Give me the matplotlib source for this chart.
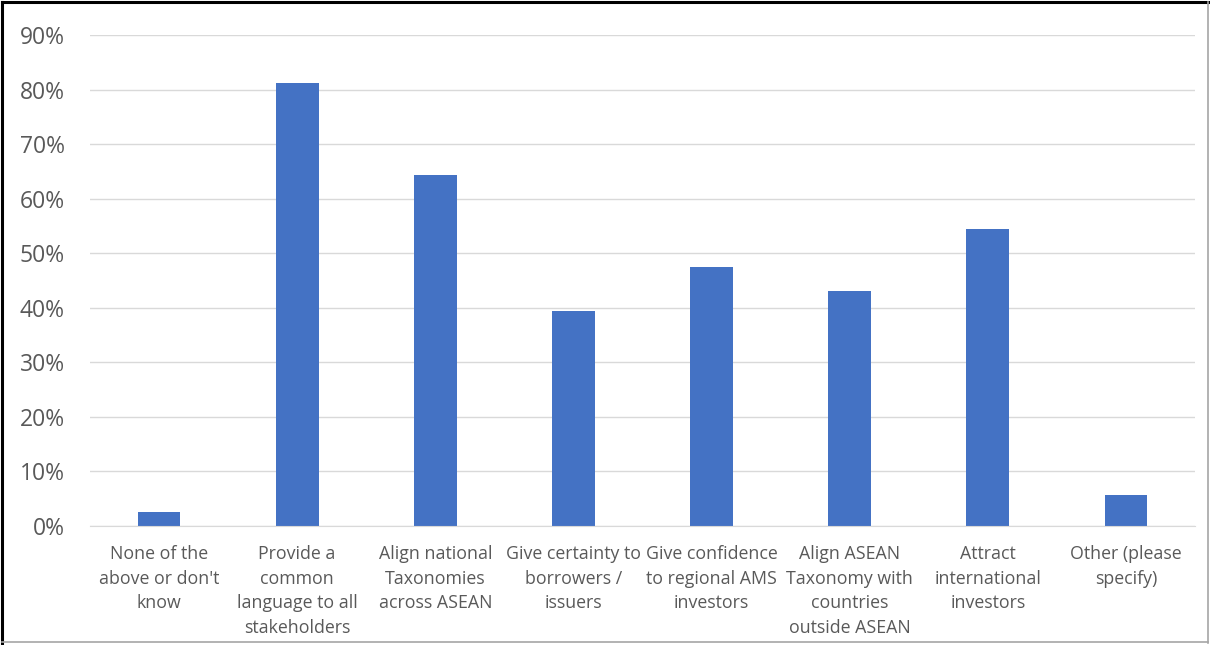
import matplotlib
matplotlib.use("Agg")
import matplotlib.pyplot as plt
from matplotlib.lines import Line2D
from matplotlib.ticker import PercentFormatter

categories = [
    "None of the\nabove or don't\nknow",
    "Provide a\ncommon\nlanguage to all\nstakeholders",
    "Align national\nTaxonomies\nacross ASEAN",
    "Give certainty to\nborrowers /\nissuers",
    "Give confidence\nto regional AMS\ninvestors",
    "Align ASEAN\nTaxonomy with\ncountries\noutside ASEAN",
    "Attract\ninternational\ninvestors",
    "Other (please\nspecify)",
]
shares = [0.025, 0.812, 0.643, 0.394, 0.475, 0.431, 0.544, 0.056]
y_ticks = [0.0, 0.1, 0.2, 0.3, 0.4, 0.5, 0.6, 0.7, 0.8, 0.9]

plt.rcParams["font.family"] = ["Open Sans", "DejaVu Sans"]

fig = plt.figure(figsize=(12.1, 6.45), dpi=100)
ax = fig.add_axes([90 / 1210, 119.3 / 645, 1105 / 1210, 490.7 / 645])

x = range(len(categories))
ax.bar(x, shares, width=0.31, color="#4472C4", zorder=3)

ax.set_xlim(-0.5, len(categories) - 0.5)
ax.set_ylim(0, 0.9)
ax.set_yticks(y_ticks)
ax.yaxis.set_major_formatter(PercentFormatter(1.0, decimals=0))
ax.set_xticks(list(x))
ax.set_xticklabels(categories, fontsize=12.8, color="#595959", linespacing=1.47)
ax.tick_params(axis="y", length=0, pad=18, labelsize=16.5, labelcolor="#595959")
ax.tick_params(axis="x", length=0, pad=14)

ax.grid(axis="y", color="#D9D9D9", linewidth=1, zorder=0)
for side in ["top", "right", "left"]:
    ax.spines[side].set_visible(False)
ax.spines["bottom"].set_color("#D9D9D9")
ax.spines["bottom"].set_zorder(4)

# outer frame of the screenshot
fig.add_artist(Line2D([0.002, 0.002], [0.003, 0.997], color="black", lw=2.2, transform=fig.transFigure))
fig.add_artist(Line2D([0.002, 0.999], [0.997, 0.997], color="black", lw=2.2, transform=fig.transFigure))
fig.add_artist(Line2D([0.9985, 0.9985], [0.003, 0.997], color="#A6A6A6", lw=1.2, transform=fig.transFigure))
fig.add_artist(Line2D([0.002, 0.9985], [0.004, 0.004], color="#A6A6A6", lw=1.2, transform=fig.transFigure))

fig.savefig("out.png", dpi=100)
